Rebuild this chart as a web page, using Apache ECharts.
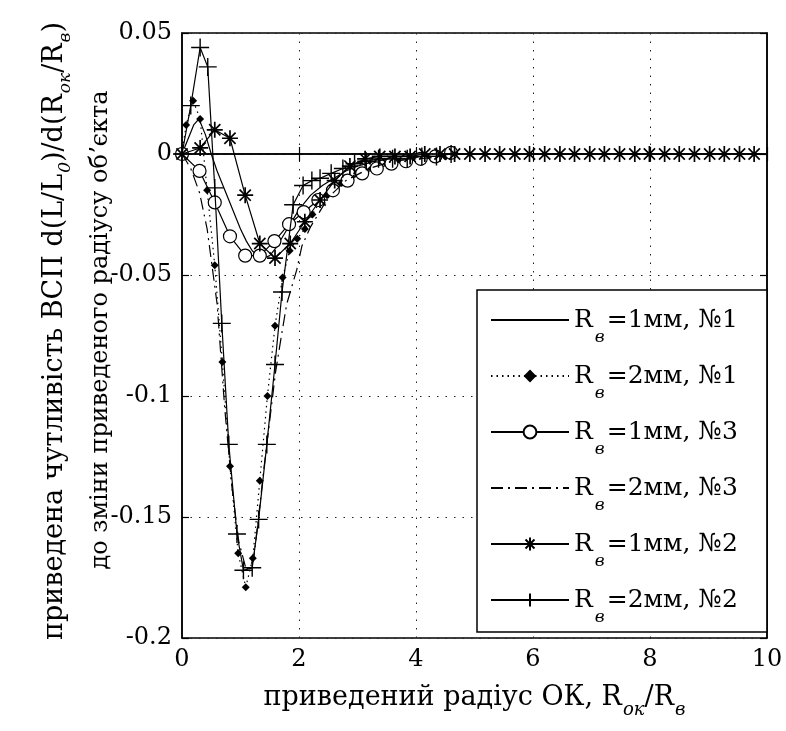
<!DOCTYPE html>
<html><head><meta charset="utf-8">
<script src="https://cdn.jsdelivr.net/npm/echarts@6/dist/echarts.min.js"></script>
<style>html,body{margin:0;padding:0;background:#fff}#c{width:786px;height:731px}</style>
</head><body><div id="c"></div>
<script>
// ---- data ----
const xTicks = [0, 2, 4, 6, 8, 10];
const yTicks = [-0.2, -0.15, -0.1, -0.05, 0, 0.05];

const seriesNames = ['Rв=1мм, №1', 'Rв=2мм, №1', 'Rв=1мм, №3', 'Rв=2мм, №3', 'Rв=1мм, №2', 'Rв=2мм, №2'];

// Rв=1мм, №1 (solid, no markers)
const x_1mm_n1 = [0, 0.1, 0.2, 0.29, 0.4, 0.5, 0.6, 0.7, 0.8, 0.9, 1.0, 1.1, 1.2, 1.3, 1.4, 1.5, 1.6, 1.7, 1.8, 1.9, 2.0, 2.2, 2.4, 2.6, 2.8, 3.0, 3.3, 3.6, 4.0, 4.5, 5.0];
const y_1mm_n1 = [0, 0.006, 0.012, 0.0145, 0.008, 0.000, -0.007, -0.013, -0.019, -0.025, -0.031, -0.036, -0.040, -0.042, -0.043, -0.042, -0.039, -0.035, -0.031, -0.027, -0.023, -0.017, -0.013, -0.010, -0.007, -0.005, -0.003, -0.002, -0.001, 0, 0];

// Rв=2мм, №1 (dotted, diamonds)
const x_2mm_n1 = [0, 0.07, 0.19, 0.31, 0.43, 0.56, 0.69, 0.82, 0.96, 1.09, 1.21, 1.33, 1.46, 1.59, 1.72, 1.84, 1.97, 2.1, 2.23, 2.35, 2.48, 2.6, 2.73, 2.86, 2.99, 3.11, 3.24, 3.37, 3.5, 3.62, 3.75, 3.88, 4.0, 4.13, 4.26, 4.38, 4.51];
const y_2mm_n1 = [0, 0.012, 0.022, 0.0145, -0.015, -0.046, -0.086, -0.129, -0.165, -0.179, -0.167, -0.135, -0.100, -0.071, -0.051, -0.040, -0.035, -0.031, -0.025, -0.020, -0.017, -0.014, -0.012, -0.010, -0.008, -0.007, -0.006, -0.005, -0.004, -0.004, -0.003, -0.003, -0.002, -0.002, -0.001, -0.001, -0.001];

// Rв=1мм, №3 (solid, open circles)
const x_1mm_n3 = [0, 0.3, 0.56, 0.82, 1.08, 1.33, 1.58, 1.83, 2.08, 2.33, 2.58, 2.83, 3.08, 3.33, 3.58, 3.83, 4.08, 4.33, 4.6];
const y_1mm_n3 = [0, -0.007, -0.020, -0.034, -0.042, -0.042, -0.036, -0.029, -0.024, -0.019, -0.015, -0.011, -0.008, -0.006, -0.004, -0.003, -0.002, -0.001, 0.0005];

// Rв=2мм, №3 (dash-dot, no markers)
const x_2mm_n3 = [0, 0.15, 0.3, 0.43, 0.6, 0.73, 0.85, 0.97, 1.1, 1.22, 1.3, 1.4, 1.5, 1.6, 1.7, 1.79, 1.96, 2.05, 2.2, 2.5, 2.8, 3.2, 3.6, 4.0, 4.5];
const y_2mm_n3 = [0, -0.006, -0.016, -0.031, -0.062, -0.105, -0.137, -0.160, -0.172, -0.168, -0.152, -0.130, -0.110, -0.090, -0.075, -0.062, -0.048, -0.038, -0.030, -0.018, -0.011, -0.006, -0.003, -0.002, -0.001];

// Rв=1мм, №2 (solid, asterisks)
const x_1mm_n2 = [0, 0.31, 0.56, 0.82, 1.08, 1.33, 1.59, 1.85, 2.1, 2.36, 2.61, 2.87, 3.13, 3.38, 3.64, 3.9, 4.15, 4.41, 4.66, 4.92, 5.18, 5.43, 5.69, 5.94, 6.2, 6.46, 6.71, 6.97, 7.22, 7.48, 7.74, 7.99, 8.25, 8.5, 8.76, 9.02, 9.27, 9.53, 9.78];
const y_1mm_n2 = [0, 0.0025, 0.010, 0.0065, -0.017, -0.037, -0.043, -0.037, -0.028, -0.019, -0.011, -0.005, -0.002, -0.001, -0.001, -0.001, 0, 0, 0, 0, 0, 0, 0, 0, 0, 0, 0, 0, 0, 0, 0, 0, 0, 0, 0, 0, 0, 0, 0];

// Rв=2мм, №2 (solid, plus)
const x_2mm_n2 = [0, 0.15, 0.31, 0.44, 0.56, 0.68, 0.8, 0.94, 1.05, 1.2, 1.31, 1.45, 1.59, 1.71, 1.9, 2.07, 2.22, 2.36, 2.55, 2.75, 2.95, 3.15, 3.36, 3.6, 3.85, 4.1, 4.35, 4.6];
const y_2mm_n2 = [0, 0.020, 0.044, 0.036, -0.014, -0.070, -0.120, -0.157, -0.172, -0.171, -0.151, -0.120, -0.087, -0.057, -0.021, -0.013, -0.011, -0.010, -0.008, -0.006, -0.004, -0.003, -0.002, -0.002, -0.002, -0.001, -0.001, 0];

// ---- chart ----
const FONT = 'DejaVu Serif';
const zip = (xs, ys) => xs.map((x, i) => [x, ys[i]]);
const ASTER = 'path://M0,-10L0,10M-10,0L10,0M-7,-7L7,7M-7,7L7,-7';
const PLUS = 'path://M0,-10L0,10M-10,0L10,0';
const CLEAR = 'rgba(0,0,0,0)';

const baseLine = { color: '#000', width: 1.2 };
const seriesDefs = [
  { data: zip(x_1mm_n1, y_1mm_n1), symbol: 'none', lineStyle: { ...baseLine, type: 'solid' }, itemStyle: { color: CLEAR, borderColor: CLEAR } },
  { data: zip(x_2mm_n1, y_2mm_n1), symbol: 'diamond', symbolSize: 8, lineStyle: { ...baseLine, type: [1.5, 4] }, itemStyle: { color: '#000' } },
  { data: zip(x_1mm_n3, y_1mm_n3), symbol: 'circle', symbolSize: 13, lineStyle: { ...baseLine }, itemStyle: { color: '#fff', borderColor: '#000', borderWidth: 1.2 } },
  { data: zip(x_2mm_n3, y_2mm_n3), symbol: 'none', lineStyle: { ...baseLine, type: [12, 5, 2, 5] }, itemStyle: { color: CLEAR, borderColor: CLEAR } },
  { data: zip(x_1mm_n2, y_1mm_n2), symbol: ASTER, symbolSize: 16, lineStyle: { ...baseLine }, itemStyle: { color: '#000', borderColor: '#000', borderWidth: 1.7 } },
  { data: zip(x_2mm_n2, y_2mm_n2), symbol: PLUS, symbolSize: 18, lineStyle: { ...baseLine }, itemStyle: { color: '#000', borderColor: '#000', borderWidth: 1.4 } }
];

const series = seriesDefs.map((d, i) => Object.assign({
  name: seriesNames[i], type: 'line', showSymbol: d.symbol !== 'none', showAllSymbol: true,
  animation: false, z: 3 + i, emphasis: { disabled: true }
}, d));

const chart = echarts.init(document.getElementById('c'), null, { renderer: 'canvas' });
const gridL = 182, gridR = 19, gridT = 33, gridB = 93;
const tickFont = { fontFamily: FONT, fontSize: 24, color: '#000' };
const axisCommonX = { type: 'value', min: 0, max: 10, interval: 2 };
const axisCommonY = { type: 'value', min: -0.2, max: 0.05, interval: 0.05 };

chart.setOption({
  backgroundColor: '#fff',
  color: ['#000'],
  animation: false,
  grid: { left: gridL, right: gridR, top: gridT, bottom: gridB, show: true, borderColor: '#000', borderWidth: 1.5, backgroundColor: 'transparent' },
  xAxis: [
    Object.assign({}, axisCommonX, {
      position: 'bottom',
      axisLine: { show: true, lineStyle: { color: '#000', width: 1.5 } },
      axisTick: { show: true, inside: true, length: 7, lineStyle: { color: '#000', width: 1.2 } },
      axisLabel: Object.assign({ margin: 10 }, tickFont),
      splitLine: { show: true, lineStyle: { color: '#222', width: 1, type: [1.5, 7] } },
      name: 'приведений радіус ОК, R{s|ок}/R{s|в}',
      nameLocation: 'middle', nameGap: 44,
      nameTextStyle: {
        fontFamily: FONT, fontSize: 27, color: '#000',
        rich: {
          s: { fontFamily: FONT, fontSize: 18, fontStyle: 'italic', color: '#000', padding: [24, 0, 0, 1], lineHeight: 18 }
        }
      }
    }),
    Object.assign({}, axisCommonX, {
      position: 'top',
      axisLine: { show: true, lineStyle: { color: '#000', width: 1.5 } },
      axisTick: { show: true, inside: true, length: 7, lineStyle: { color: '#000', width: 1.2 } },
      axisLabel: { show: false }, splitLine: { show: false }
    })
  ],
  yAxis: [
    Object.assign({}, axisCommonY, {
      position: 'left',
      axisLine: { show: true, onZero: false, lineStyle: { color: '#000', width: 1.5 } },
      axisTick: { show: true, inside: true, length: 7, lineStyle: { color: '#000', width: 1.2 } },
      axisLabel: Object.assign({ margin: 10 }, tickFont),
      splitLine: { show: true, lineStyle: { color: '#222', width: 1, type: [1.5, 7] } }
    }),
    Object.assign({}, axisCommonY, {
      position: 'right',
      axisLine: { show: true, onZero: false, lineStyle: { color: '#000', width: 1.5 } },
      axisTick: { show: true, inside: true, length: 7, lineStyle: { color: '#000', width: 1.2 } },
      axisLabel: { show: false }, splitLine: { show: false }
    })
  ],
  legend: {
    show: true, orient: 'vertical', left: 477, top: 290,
    padding: [4, 29, 6, 13], itemGap: 4,
    itemWidth: 78, itemHeight: 16,
    backgroundColor: '#fff', borderColor: '#000', borderWidth: 1.5,
    selectedMode: false,
    data: seriesNames,
    formatter: (name) => '{r|R}{s|в}{t|' + name.slice(2) + '}',
    textStyle: {
      fontFamily: FONT, fontSize: 25, color: '#000',
      rich: {
        r: { fontFamily: FONT, fontSize: 25, color: '#000', lineHeight: 30, verticalAlign: 'middle' },
        s: { fontFamily: FONT, fontSize: 17, fontStyle: 'italic', color: '#000', lineHeight: 17, padding: [35, 2, 0, 2] },
        t: { fontFamily: FONT, fontSize: 25, color: '#000', lineHeight: 30, verticalAlign: 'middle' }
      }
    },
    z: 20
  },
  graphic: [
    {
      type: 'text', x: 55, y: 331, rotation: Math.PI / 2, z: 30,
      style: {
        text: 'приведена чутливість ВСП d(L/L{s|0})/d(R{s|ок}/R{s|в})',
        fontFamily: FONT, fontSize: 27, fill: '#000', align: 'center', verticalAlign: 'middle',
        rich: {
          s: { fontFamily: FONT, fontSize: 17, fontStyle: 'italic', fill: '#000', lineHeight: 17, padding: [22, 0, 0, 1] }
        }
      }
    },
    {
      type: 'text', x: 101, y: 330, rotation: Math.PI / 2, z: 30,
      style: {
        text: 'до зміни приведеного радіусу обʼєкта',
        fontFamily: FONT, fontSize: 24, fill: '#000', align: 'center', verticalAlign: 'middle'
      }
    }
  ],
  series: series
});
</script>
</body></html>
